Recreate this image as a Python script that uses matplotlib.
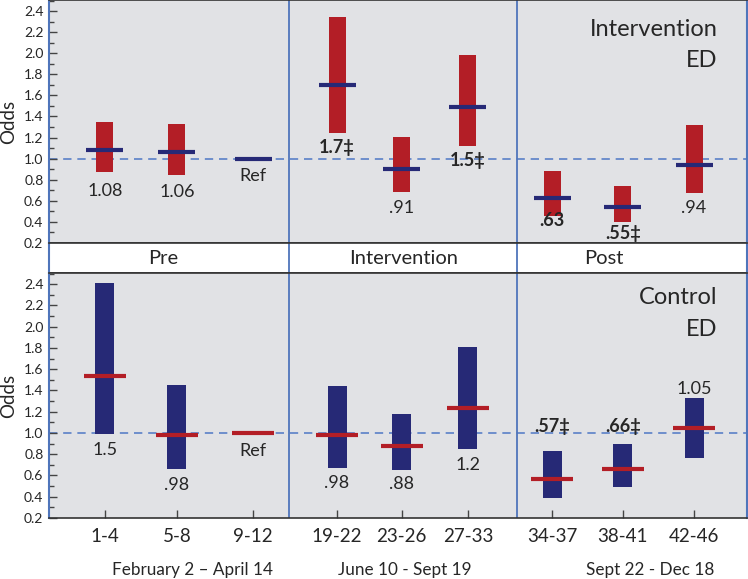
import numpy as np
import matplotlib
matplotlib.use("Agg")
import matplotlib.pyplot as plt
from matplotlib.ticker import MultipleLocator, FormatStrFormatter

plt.rcParams['font.family'] = ['Lato', 'DejaVu Sans']

# ---------------- data ----------------
weeks = ['1-4', '5-8', '9-12', '19-22', '23-26', '27-33', '34-37', '38-41', '42-46']
periods = ['Pre', 'Intervention', 'Post']
date_ranges = ['February 2 \u2013 April 14', 'June 10 - Sept 19', 'Sept 22 - Dec 18']
nan = np.nan

int_odds = [1.08, 1.06, 1.00, 1.70, 0.905, 1.486, 0.626, 0.54, 0.936]
int_lo = [0.87, 0.845, nan, 1.245, 0.686, 1.124, 0.457, 0.403, 0.67]
int_hi = [1.346, 1.33, nan, 2.346, 1.21, 1.98, 0.879, 0.743, 1.324]
int_labels = ['1.08', '1.06', 'Ref', '1.7\u2021', '.91', '1.5\u2021', '.63', '.55\u2021', '.94']
int_bold = [False, False, False, True, False, True, True, True, False]

ctl_odds = [1.535, 0.978, 1.00, 0.978, 0.875, 1.233, 0.566, 0.657, 1.047]
ctl_lo = [0.988, 0.664, nan, 0.673, 0.655, 0.85, 0.39, 0.49, 0.768]
ctl_hi = [2.415, 1.45, nan, 1.44, 1.18, 1.805, 0.834, 0.893, 1.327]
ctl_labels = ['1.5', '.98', 'Ref', '.98', '.88', '1.2', '.57\u2021', '.66\u2021', '1.05']
ctl_bold = [False, False, False, False, False, False, True, True, False]

# ---------------- layout ----------------
pos = [0.76, 1.74, 2.78, 3.92, 4.80, 5.70, 6.85, 7.81, 8.78]
dividers = [3.27, 6.37]
int_label_y = [0.697, 0.68, 0.839, 1.104, 0.535, 0.981, 0.412, 0.289, 0.535]
ctl_label_y = [0.844, 0.514, 0.828, 0.533, 0.517, 0.702, 1.063, 1.063, 1.418]
period_label_x = [1.55, 4.82, 7.55]
date_label_px = [192, 405, 650]

RED = '#b31e26'
BLUE = '#262976'
BG = '#e1e2e5'
LINEBLUE = '#4f75bb'
DASH = '#5a80c8'
TXT = '#262626'

W, H = 748, 579
fig = plt.figure(figsize=(W / 100, H / 100), dpi=100)


def fax(l, t, r, b):
    return fig.add_axes([l / W, 1 - b / H, (r - l) / W, (b - t) / H])


ax_top = fax(49, 0, 747, 243)
ax_band = fax(49, 243, 747, 273)
ax_bot = fax(49, 273, 747, 518)

XL = (0, 9.5)


def style_panel(ax):
    ax.set_facecolor(BG)
    ax.set_xlim(*XL)
    ax.set_ylim(0.2, 2.505)
    ax.yaxis.set_major_locator(MultipleLocator(0.2))
    ax.yaxis.set_minor_locator(MultipleLocator(0.1))
    ax.yaxis.set_major_formatter(FormatStrFormatter('%.1f'))
    ax.tick_params(axis='y', which='major', direction='in', length=6, width=1,
                   color='#444444', labelsize=10, pad=4, labelcolor=TXT)
    ax.tick_params(axis='y', which='minor', direction='in', length=3.5, width=1,
                   color='#444444')
    for s in ['left', 'right']:
        ax.spines[s].set_color(LINEBLUE)
        ax.spines[s].set_linewidth(1.5)
    for s in ['top', 'bottom']:
        ax.spines[s].set_color('#333333')
        ax.spines[s].set_linewidth(1.2)
    ax.axhline(1.0, color=DASH, lw=1.2, ls=(0, (5, 3.5)), zorder=1)
    for d in dividers:
        ax.axvline(d, color=LINEBLUE, lw=1.3, zorder=1)
    fig.text(8.5 / W, 0.5 * (ax.get_position().y0 + ax.get_position().y1), 'Odds',
             rotation=90, ha='center', va='center', fontsize=13.5, color=TXT)


def draw(ax, odds, lo, hi, labels, bold, label_y, bar_color, med_color, bw, hw):
    lo = np.array(lo, dtype=float)
    hi = np.array(hi, dtype=float)
    ax.bar(pos, hi - lo, bottom=lo, width=bw, color=bar_color, zorder=2)
    ax.hlines(odds, np.array(pos) - hw, np.array(pos) + hw, colors=med_color,
              lw=3, zorder=3)
    for x, t, b, y in zip(pos, labels, bold, label_y):
        ax.text(x, y, t, ha='center', va='center', fontsize=13,
                fontweight='bold' if b else 'normal', color=TXT, zorder=4)


style_panel(ax_top)
draw(ax_top, int_odds, int_lo, int_hi, int_labels, int_bold, int_label_y,
     RED, BLUE, 0.231, 0.252)
ax_top.set_xticks([])
ax_top.text(0.958, 0.88, 'Intervention', transform=ax_top.transAxes, ha='right',
            va='center', fontsize=17, color=TXT)
ax_top.text(0.958, 0.75, 'ED', transform=ax_top.transAxes, ha='right',
            va='center', fontsize=17, color=TXT)

style_panel(ax_bot)
draw(ax_bot, ctl_odds, ctl_lo, ctl_hi, ctl_labels, ctl_bold, ctl_label_y,
     BLUE, RED, 0.259, 0.286)
ax_bot.set_xticks(pos)
ax_bot.set_xticklabels(weeks)
ax_bot.tick_params(axis='x', direction='in', length=6, width=1, color='#444444',
                   labelsize=13.5, pad=7, labelcolor=TXT)
ax_bot.text(0.958, 0.9, 'Control', transform=ax_bot.transAxes, ha='right',
            va='center', fontsize=17, color=TXT)
ax_bot.text(0.958, 0.77, 'ED', transform=ax_bot.transAxes, ha='right',
            va='center', fontsize=17, color=TXT)

# band
ax_band.set_facecolor('white')
ax_band.set_xlim(*XL)
ax_band.set_ylim(0, 1)
ax_band.set_xticks([])
ax_band.set_yticks([])
for s in ['left', 'right']:
    ax_band.spines[s].set_color(LINEBLUE)
    ax_band.spines[s].set_linewidth(1.5)
for s in ['top', 'bottom']:
    ax_band.spines[s].set_color('#333333')
    ax_band.spines[s].set_linewidth(1.2)
for d in dividers:
    ax_band.axvline(d, color=LINEBLUE, lw=1.3)
for x, p in zip(period_label_x, periods):
    ax_band.text(x, 0.5, p, ha='center', va='center', fontsize=14.5, color=TXT)

for px, t in zip(date_label_px, date_ranges):
    fig.text(px / W, 1 - 570 / H, t, ha='center', va='center', fontsize=12.3,
             color=TXT)

fig.savefig('out.png', dpi=100)
